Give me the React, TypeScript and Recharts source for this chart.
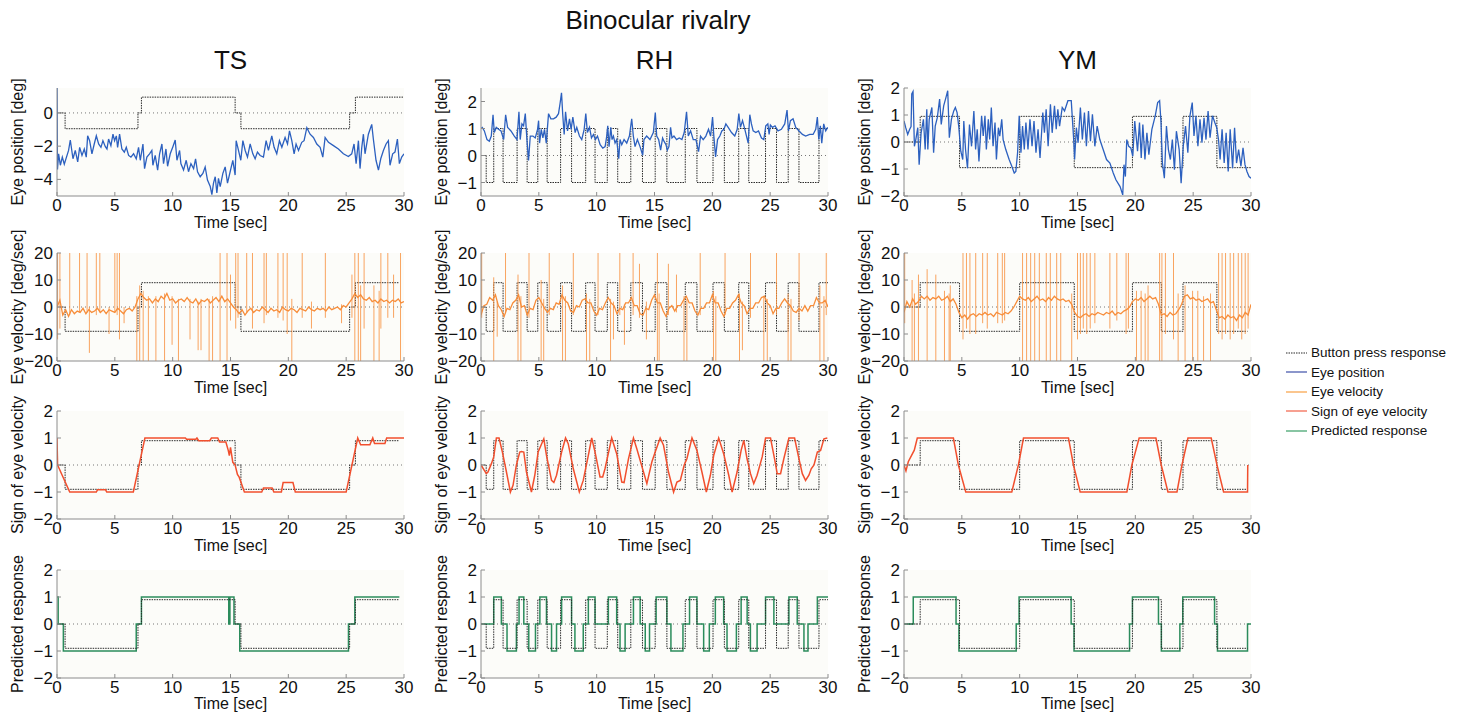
import { LineChart, Line, XAxis, YAxis, CartesianGrid, ReferenceLine } from "recharts";

const TIME_TICKS = [0, 5, 10, 15, 20, 25, 30];
const VEL_TICKS = [-20, -10, 0, 10, 20];
const SIGN_TICKS = [-2, -1, 0, 1, 2];
const TS_POS_TICKS = [-4, -2, 0];
const RH_POS_TICKS = [-1, 0, 1, 2];
const YM_POS_TICKS = [-2, -1, 0, 1, 2];

const SUBJECTS = ["TS", "RH", "YM"];
const ROW_LABELS = ["Eye position [deg]", "Eye velocity [deg/sec]", "Sign of eye velocity", "Predicted response"];
const LEGEND_ITEMS = ["Button press response", "Eye position", "Eye velocity", "Sign of eye velocity", "Predicted response"];

// button press: switch times [sec] and state from that time on
const TS_BUTTON_T = [0, 0.7, 7.0, 7.3, 15.4, 15.9, 25.3, 25.8];
const TS_BUTTON_S = [0, -1, 0, 1, 0, -1, 0, 1];
const RH_BUTTON_T = [0, 0.45, 1.1, 1.91, 3.12, 3.99, 4.91, 5.72, 6.88, 7.83, 9.05, 9.86, 10.92, 11.82, 12.95, 13.96, 15.06, 16.07, 17.66, 18.67, 20.06, 21.04, 22.28, 23.15, 24.6, 25.55, 26.56, 27.49, 29.22];
const RH_BUTTON_S = [0, -1, 1, -1, 1, -1, 1, -1, 1, -1, 1, -1, 1, -1, 1, -1, 1, -1, 1, -1, 1, -1, 1, -1, 1, -1, 1, -1, 1];
const YM_BUTTON_T = [0, 1.4, 4.8, 10.0, 14.72, 19.75, 22.25, 24.12, 27.05];
const YM_BUTTON_S = [0, 1, -1, 1, -1, 1, -1, 1, -1];

// eye position [t, deg]
const TS_POS: [number, number][] = [
  [0, 1.6], [0.04, -3.4], [0.14, -2.46], [0.29, -3.15], [0.46, -2.66], [0.63, -3.09], [1.0, -2.26], [1.15, -1.63],
  [1.38, -2.76], [1.58, -2.26], [1.79, -2.95], [1.96, -2.07], [2.16, -2.56], [2.36, -2.17], [2.53, -2.66], [2.65, -1.38],
  [2.82, -1.67], [3.02, -2.46], [3.22, -1.87], [3.4, -1.38], [3.6, -1.87], [3.8, -2.07], [3.97, -1.67], [4.18, -2.03],
  [4.32, -2.17], [4.46, -1.57], [4.66, -1.97], [4.84, -1.28], [4.98, -1.67], [5.13, -1.38], [5.24, -2.07], [5.41, -1.28],
  [5.61, -2.17], [5.82, -2.36], [5.99, -2.07], [6.19, -2.56], [6.39, -2.66], [6.62, -2.46], [6.85, -2.76], [7.05, -2.07],
  [7.2, -2.85], [7.43, -1.87], [7.57, -3.35], [7.77, -2.66], [8.0, -2.46], [8.2, -2.26], [8.29, -3.15], [8.49, -2.56],
  [8.7, -3.44], [8.87, -2.46], [9.07, -1.87], [9.21, -3.05], [9.42, -2.17], [9.56, -3.21], [9.79, -2.46], [10.02, -2.03],
  [10.22, -1.63], [10.37, -2.85], [10.6, -2.26], [10.71, -3.05], [10.94, -3.44], [11.17, -2.85], [11.37, -3.54], [11.58, -3.05],
  [11.81, -3.35], [11.98, -2.76], [12.15, -3.54], [12.38, -3.84], [12.61, -3.64], [12.81, -3.25], [13.01, -4.04], [13.25, -4.43],
  [13.39, -4.92], [13.53, -4.23], [13.68, -3.84], [13.82, -4.82], [13.96, -3.94], [14.11, -4.43], [14.34, -3.64], [14.54, -3.25],
  [14.74, -4.23], [14.97, -3.54], [15.2, -2.85], [15.4, -3.74], [15.49, -1.67], [15.69, -2.26], [15.89, -2.85], [16.07, -1.67],
  [16.27, -2.26], [16.47, -2.66], [16.7, -1.87], [16.93, -2.46], [17.13, -2.76], [17.33, -2.36], [17.56, -2.56], [17.85, -2.66],
  [18.08, -1.67], [18.28, -2.26], [18.57, -1.38], [18.77, -2.07], [19.0, -2.46], [19.23, -1.67], [19.44, -2.07], [19.72, -1.48],
  [19.93, -1.87], [20.1, -1.08], [20.3, -1.67], [20.5, -2.46], [20.67, -1.87], [20.88, -2.26], [21.16, -1.77], [21.36, -1.67],
  [21.6, -0.89], [21.88, -1.28], [22.17, -1.48], [22.46, -1.87], [22.75, -2.07], [22.98, -2.66], [23.18, -1.48], [23.47, -1.77],
  [23.9, -1.97], [24.33, -2.17], [24.76, -2.46], [25.19, -2.62], [25.48, -2.46], [25.68, -1.87], [25.86, -3.05], [26.06, -1.67],
  [26.2, -3.35], [26.35, -2.07], [26.49, -1.28], [26.63, -2.46], [26.92, -1.28], [27.21, -0.69], [27.35, -1.57], [27.58, -2.85],
  [27.79, -3.44], [27.99, -2.76], [28.22, -2.26], [28.45, -1.87], [28.65, -1.67], [28.79, -3.15], [29.02, -2.46], [29.22, -2.36],
  [29.43, -1.57], [29.6, -3.05], [29.8, -2.66], [30, -2.46],
];

const RH_POS: [number, number][] = [
  [0, 1.0], [0.11, 1.04], [0.29, 0.91], [0.52, 0.59], [0.72, 0.53], [0.89, 0.72], [1.04, 1.51], [1.15, 0.85],
  [1.32, 1.04], [1.52, 0.97], [1.73, 0.91], [1.96, 0.59], [2.13, 1.51], [2.3, 1.04], [2.59, 0.91], [2.88, 0.72],
  [3.11, 0.59], [3.28, 1.62], [3.39, 0.59], [3.54, 1.17], [3.68, 1.1], [3.83, 1.55], [3.97, 0.59], [4.11, -0.18],
  [4.26, 0.72], [4.49, 0.72], [4.69, 0.65], [4.89, 0.97], [4.98, 1.29], [5.06, 0.46], [5.21, 0.97], [5.35, 0.65],
  [5.49, 0.97], [5.64, 0.46], [5.84, 1.55], [6.04, 1.36], [6.27, 1.36], [6.5, 1.42], [6.7, 1.55], [6.84, 1.94],
  [6.96, 2.32], [7.07, 1.49], [7.19, 0.78], [7.31, 1.62], [7.48, 0.91], [7.65, 1.36], [7.79, 0.97], [7.94, 1.42],
  [8.14, 0.85], [8.28, 1.04], [8.51, 0.72], [8.71, 0.59], [8.92, 0.97], [9.06, 1.55], [9.2, 0.85], [9.38, 1.04],
  [9.55, 0.65], [9.72, 0.78], [9.89, 0.59], [10.07, 0.72], [10.3, 0.4], [10.53, 0.27], [10.73, 0.33], [10.87, 0.72],
  [10.96, 1.1], [11.07, 0.33], [11.22, 1.04], [11.33, 0.59], [11.45, 0.72], [11.59, 0.46], [11.73, 0.59], [11.91, -0.12],
  [12.02, 0.59], [12.17, 0.4], [12.37, 0.59], [12.6, 0.46], [12.83, 0.72], [13.03, 1.36], [13.17, 0.72], [13.32, 0.33],
  [13.52, 0.59], [13.75, 0.33], [13.98, 0.01], [14.09, 0.59], [14.32, 0.72], [14.61, 0.59], [14.9, 0.85], [15.07, 1.59],
  [15.19, 0.72], [15.36, 0.59], [15.53, 0.2], [15.7, 0.65], [15.82, 0.53], [15.99, 0.4], [16.11, 0.2], [16.25, 0.33],
  [16.39, 1.04], [16.51, 0.65], [16.68, 0.72], [16.91, 0.59], [17.14, 0.65], [17.37, 0.59], [17.57, 0.85], [17.77, 1.62],
  [17.92, 0.72], [18.12, 0.91], [18.35, 0.59], [18.58, 0.59], [18.81, 0.14], [18.98, 0.72], [19.21, 0.59], [19.44, 0.72],
  [19.67, 0.97], [19.85, 0.72], [20.02, 1.42], [20.13, 0.72], [20.28, -0.05], [20.45, 0.59], [20.65, 0.72], [20.82, 0.91],
  [21.0, 0.97], [21.17, 1.17], [21.37, 1.04], [21.66, 0.85], [21.94, 0.72], [22.15, 0.97], [22.29, 1.55], [22.43, 1.04],
  [22.61, 1.29], [22.81, 0.97], [23.1, 0.46], [23.24, 1.51], [23.38, 1.17], [23.53, 0.91], [23.76, 0.85], [23.99, 0.91],
  [24.25, 0.65], [24.45, 0.59], [24.62, 1.1], [24.8, 1.17], [24.91, 0.78], [25.02, 1.13], [25.2, 1.04], [25.42, 1.1],
  [25.68, 0.91], [25.97, 0.97], [26.26, 1.17], [26.46, 1.68], [26.58, 0.91], [26.75, 1.29], [26.98, 1.36], [27.21, 1.04],
  [27.5, 0.91], [27.79, 0.78], [28.07, 0.72], [28.42, 0.78], [28.71, 0.78], [28.94, 0.97], [29.08, 1.42], [29.2, 0.59],
  [29.34, 1.1], [29.46, 0.46], [29.63, 1.17], [29.8, 0.91], [29.97, 1.04],
];

const YM_POS: [number, number][] = [
  [0, 0.78], [0.15, 0.53], [0.32, 0.28], [0.49, 0.47], [0.61, 0.57], [0.67, 1.78], [0.78, 1.87], [0.9, -0.16],
  [1.02, 0.09], [1.19, 0.53], [1.31, -0.84], [1.48, 0.34], [1.68, 0.84], [1.83, -0.28], [1.97, 1.21], [2.06, -0.28],
  [2.18, 0.84], [2.41, 1.28], [2.56, -0.4], [2.7, 0.59], [2.88, 0.9], [3.08, 1.59], [3.22, 0.65], [3.43, 1.34],
  [3.63, 1.65], [3.78, 1.9], [3.92, 0.16], [4.1, 0.84], [4.3, 1.15], [4.44, 1.28], [4.59, 1.09], [4.73, 0.59],
  [4.91, -0.34], [5.08, -0.65], [5.17, 0.78], [5.32, -0.28], [5.49, -0.97], [5.66, 0.65], [5.84, -0.16], [6.04, 1.15],
  [6.19, -0.28], [6.33, 0.47], [6.48, -0.72], [6.71, 0.97], [6.85, 0.22], [7.0, 0.97], [7.12, -0.28], [7.29, 0.84],
  [7.41, 0.09], [7.55, 1.28], [7.7, -0.16], [7.87, 0.72], [7.99, -0.65], [8.16, 0.53], [8.28, 0.22], [8.45, 0.84],
  [8.57, 0.09], [8.8, -0.28], [9.09, -0.65], [9.32, -0.9], [9.53, -1.15], [9.67, -1.09], [9.82, -0.4], [9.96, 0.97],
  [10.11, -0.4], [10.25, 0.59], [10.4, -0.28], [10.54, 0.72], [10.72, -0.28], [10.89, 0.84], [11.07, -0.16], [11.24, 0.78],
  [11.41, -0.4], [11.59, 0.47], [11.76, -0.59], [12.0, 1.09], [12.14, 0.34], [12.29, 1.21], [12.46, -0.16], [12.66, 1.4],
  [12.81, 0.34], [13.01, 1.34], [13.16, 0.47], [13.3, 1.21], [13.45, 0.59], [13.68, 1.28], [13.88, 1.15], [14.17, 1.53],
  [14.46, 1.53], [14.67, 0.09], [14.75, -0.65], [14.9, 0.53], [15.05, -0.03], [15.25, 1.28], [15.42, 0.09], [15.6, 1.09],
  [15.77, -0.16], [15.95, 1.15], [16.12, 0.03], [16.29, 1.03], [16.5, -0.16], [16.7, 0.59], [16.93, 0.09], [17.22, -0.28],
  [17.51, -0.65], [17.8, -0.78], [18.09, -1.15], [18.32, -1.4], [18.68, -1.65], [18.91, -1.96], [19.02, -0.84], [19.14, -1.28],
  [19.26, 0.09], [19.43, -0.16], [19.61, -0.22], [19.78, -0.53], [19.95, 0.78], [20.19, -0.34], [20.36, 0.72], [20.51, -0.59],
  [20.65, 0.65], [20.83, -0.65], [21.0, 0.34], [21.17, -0.47], [21.43, 0.47], [21.72, 0.97], [21.93, 1.46], [22.1, 1.53],
  [22.22, 0.72], [22.34, -0.78], [22.51, -1.34], [22.69, 0.59], [22.86, -0.28], [23.03, -0.65], [23.2, 0.09], [23.38, -1.03],
  [23.55, 0.4], [23.79, -0.28], [23.96, -1.53], [24.14, -0.16], [24.34, 0.59], [24.54, -0.4], [24.72, 0.97], [24.92, 1.46],
  [25.07, 0.22], [25.24, 0.97], [25.41, -0.16], [25.59, 0.84], [25.76, -0.03], [25.94, 0.9], [26.11, 0.09], [26.29, 1.15],
  [26.46, 0.16], [26.67, 0.97], [26.87, 0.72], [27.04, 0.53], [27.19, 0.09], [27.33, -0.65], [27.5, 0.47], [27.68, -0.78],
  [27.85, 0.34], [28.03, -1.09], [28.2, 0.47], [28.41, -0.97], [28.58, 0.53], [28.75, -0.78], [28.93, -0.28], [29.13, -0.9],
  [29.31, -0.22], [29.48, -0.84], [29.65, -1.09], [29.83, -1.28], [30, -1.34],
];

// eye velocity [deg/sec], one reading every 0.25 sec
const VEL_STEP = 0.25;
const TS_VEL = [
  0, 2.5, -3, -1, -3.5, -1, -2.5, -1.5,
  -2, -0.5, -2.5, -1, -2, -1.5, -0.5, -2,
  -1, -2.5, -1, -1.5, -2, -0.5, -1.5, -2.5,
  -1, -0.5, -1.5, 0, 3, 5, 3.5, 2.5,
  3, 1.5, 3, 2, 4, 3, 5, 2.5,
  3, 1.5, 2.5, 3, 2, 3.5, 2, 1.5,
  3, 1, 2.5, 2, 3, 1.5, 2.5, 3.5,
  2, 4, 2, 3, 1.5, 0, -1, -2.5,
  -1, -3, -1.5, -0.5, -2, -1, -1.5, 0,
  -1, -2, -0.5, -1.5, -1, -2, 0, -1,
  -1.5, -0.5, -1, -2, -0.5, -1, -1.5, 0,
  -1, -1.5, -0.5, -1, -0.5, -1.5, 0, -1,
  -0.5, 0, -1, 0.5, 0, 1.5, 3, 5,
  3.5, 4.5, 3, 2.5, 3.5, 2, 2.5, 1.5,
  3, 2, 2.5, 1.5, 2.5, 2, 3, 1.5,
  2,
];
const RH_VEL = [
  -3, 0.5, 1, 3.5, 2.5, 4.5, 0.5, -1,
  -3.5, -0.5, -1, 1.5, 2.5, 4.5, 0, 0.5,
  -3, -0.5, -1, 2.5, 3.5, 1.5, -0.5, -2,
  -0.5, -1, 1.5, 1, 4.5, 2.5, 1.5, -1.5,
  -2, 0.5, 0, 2.5, 3, 1.5, 1.5, -1.5,
  -3, -0.5, -1, 1.5, 3.5, 1.5, 0.5, -2.5,
  -0.5, -1, 1.5, 1.5, 3.5, 0.5, 0.5, -2.5,
  -3, -0.5, -1, 2.5, 4.5, 1.5, 1.5, -1.5,
  -3.5, -0.5, 0.5, -1.5, 0.5, 0.5, 2.5, 4,
  1.5, 1.5, -1.5, -3, -0.5, -0.5, 1.5, 1.5,
  4.5, 1.5, 1.5, -1.5, -3.5, -0.5, -0.5, 1.5,
  2.5, 4.5, 1.5, 0.5, -2.5, -0.5, -0.5, 1.5,
  1.5, 3.5, 4, 1.5, 0.5, -2.5, -0.5, -0.5,
  1.5, 3, 1.5, 0.5, -1.5, -2, -0.5, -1.5,
  0.5, -1.5, 0.5, 0.5, 3.5, 1.5, 1.5, 2.5,
  0,
];
const YM_VEL = [
  -2, 2, 0, 3, 1, 2, 4, 3,
  4, 2.5, 3.5, 3, 4, 2.5, 3, 4,
  2, 3, 1, -2, -4, -3, -4.5, -3,
  -2.5, -3.5, -2.5, -3, -2, -3, -2.5, -3.5,
  -2, -2.5, -3, -2, -2.5, -1.5, 0, 2,
  4, 3, 2.5, 3.5, 2, 3, 4, 2.5,
  3, 2, 3.5, 2.5, 4, 3, 2.5, 3,
  2, 2.5, 1, -2, -3.5, -4, -3, -2.5,
  -3.5, -2.5, -3, -2, -2.5, -3, -2, -2.5,
  -1.5, -3, -2, -2.5, -1.5, -1, 0, 2,
  3, 2.5, 3.5, 2, 3, 4, 3, 3.5,
  1, -3, -2.5, -3.5, -2, -3, -2.5, -1,
  1, 4, 4.5, 3, 3.5, 2.5, 3, 2,
  2.5, 3, 1.5, 2, -1, -4, -3.5, -4.5,
  -3, -4, -3.5, -5, -3, -4, -2, -3,
  1,
];

// saccade spikes in the velocity trace: [t, low, high]
const TS_SPIKES: [number, number, number][] = [
  [0.05, -12, 25], [0.25, -8, 25], [1.1, -3, 25], [1.95, -2, 25], [2.6, -2, 25], [2.8, -17, 0], [3.4, -3, 25],
  [3.7, -2, 25], [4.5, -10, 0], [5.0, -2, 25], [5.2, -3, 25], [5.4, -12, 25], [5.8, -6, 0], [6.9, -25, 4],
  [7.15, -25, 8], [7.45, -25, 6], [7.9, -25, 4], [8.55, -25, 4], [9.3, -25, 5], [9.95, -14, 4], [10.5, -25, 3],
  [11.5, -12, 3], [12.2, -16, 2], [12.45, -16, 3], [13.15, -25, 3], [13.45, -25, 4], [14.1, -25, 25], [14.7, -25, 25],
  [15.0, -5, 12], [15.45, -8, 25], [15.65, -4, 25], [16.4, -2, 25], [16.9, -8, 25], [17.9, -6, 25], [18.1, -3, 25],
  [19.1, -4, 25], [19.55, -5, 25], [19.9, -10, 25], [20.3, -25, 3], [21.2, -4, 25], [22.0, -8, 2], [23.2, -4, 25],
  [24.6, -6, 1], [25.5, -4, 12], [25.75, -25, 25], [26.05, -25, 25], [26.25, -25, 8], [26.55, -8, 25], [27.4, -25, 8],
  [27.85, -25, 6], [28.0, -8, 25], [28.6, -4, 25], [29.1, -4, 12], [29.7, -25, 25],
];
const RH_SPIKES: [number, number, number][] = [
  [0.06, -4, 25], [1.1, -25, 11], [1.4, -11, 2], [2.12, -2, 25], [3.2, -25, 12], [3.45, -25, 4], [4.15, -4, 25],
  [5.2, -25, 10], [5.42, -25, 3], [5.9, -3, 25], [7.05, -25, 8], [7.3, -25, 4], [7.98, -3, 25], [9.12, -25, 5],
  [9.4, -25, 3], [10.12, -3, 25], [11.2, -25, 3], [11.45, -12, 2], [12.0, -3, 25], [12.4, -14, 1], [13.15, -3, 25],
  [13.7, -4, 16], [14.3, -12, 2], [15.25, -25, 25], [15.4, -25, 5], [16.2, -3, 16], [16.9, -2, 12], [17.55, -25, 4],
  [17.8, -25, 3], [18.95, -3, 25], [20.1, -25, 6], [20.3, -25, 4], [21.1, -3, 25], [22.35, -25, 5], [22.6, -16, 2],
  [23.3, -4, 25], [24.45, -25, 4], [24.75, -25, 3], [25.55, -3, 25], [26.55, -25, 5], [26.8, -25, 3], [27.5, -5, 25],
  [29.3, -25, 8], [29.65, -25, 4], [29.85, -3, 25],
];
const YM_SPIKES: [number, number, number][] = [
  [0.06, -6, 25], [0.7, -25, 10], [0.9, -25, 5], [1.25, -25, 12], [2.0, -25, 14], [2.75, -25, 12], [3.5, -25, 6],
  [3.9, -25, 5], [4.0, -25, 8], [5.1, -12, 25], [5.4, -8, 25], [5.7, -10, 25], [6.2, -10, 25], [6.8, -6, 25],
  [7.2, -8, 25], [8.1, -6, 25], [8.5, -6, 25], [8.7, -5, 25], [10.25, -25, 25], [10.6, -25, 25], [10.95, -25, 25],
  [11.3, -25, 25], [11.7, -25, 25], [12.3, -25, 25], [12.65, -25, 25], [13.2, -25, 25], [13.55, -25, 25], [14.5, -25, 5],
  [15.0, -12, 25], [15.25, -10, 25], [15.5, -8, 25], [15.8, -10, 25], [16.1, -8, 25], [16.5, -6, 25], [17.8, -8, 25],
  [18.4, -5, 25], [19.2, -10, 25], [19.4, -8, 25], [20.1, -25, 6], [20.5, -25, 6], [20.85, -25, 5], [21.1, -25, 8],
  [22.1, -25, 25], [22.3, -25, 25], [22.6, -10, 25], [23.3, -12, 25], [23.7, -25, 5], [24.3, -25, 8], [24.95, -25, 6],
  [25.4, -25, 6], [25.9, -25, 4], [26.5, -25, 5], [27.2, -10, 25], [27.5, -12, 25], [27.8, -10, 25], [28.2, -12, 25],
  [28.5, -10, 25], [28.9, -8, 25], [29.2, -12, 25], [29.5, -10, 25], [29.75, -8, 25],
];

// smoothed sign of eye velocity [t, value]
const TS_SIGN: [number, number][] = [
  [0, 1], [0.05, 0], [1.1, -1], [3.4, -1], [3.5, -0.92], [4.2, -0.92], [4.3, -1], [6.6, -1], [7.6, 1], [11.1, 1],
  [11.2, 0.95], [12.0, 0.95], [12.1, 1], [12.25, 0.9], [13.2, 0.9], [13.35, 1], [13.9, 1], [14.05, 0.85], [14.6, 0.85],
  [14.8, 0.55], [14.9, 0.35], [15.0, 0.65], [15.2, 0.1], [15.4, 0.0], [15.6, -0.35], [15.75, -0.45], [16.2, -1],
  [17.7, -1], [17.85, -0.85], [18.6, -0.85], [18.75, -1], [19.4, -1], [19.55, -0.65], [20.4, -0.65], [20.6, -1],
  [25.0, -1], [26.0, 1], [26.25, 0.75], [27.05, 0.75], [27.3, 1], [27.45, 0.8], [28.35, 0.8], [28.5, 1], [30, 1],
];
const RH_SIGN: [number, number][] = [
  [0, 0], [0.46, -0.32], [0.6, -0.26], [0.9, 0.05], [1.1, 0.3], [1.33, 1.0], [1.56, 1.0], [1.85, 0.48], [2.2, -0.26],
  [2.54, -1.0], [2.77, -0.75], [3.06, 0], [3.35, 0.48], [3.5, 0.5], [3.7, 0.48], [3.93, -0.26], [4.36, -1], [4.65, -0.38],
  [4.94, 0.48], [5.43, 0.97], [5.66, 0.36], [6.1, -0.57], [6.3, -0.65], [6.53, -0.38], [6.97, 0.48], [7.31, 1.0],
  [7.54, 0.79], [7.98, -0.14], [8.5, -1], [8.84, -0.57], [9.28, 0.36], [9.57, 1.0], [9.86, 0.48], [10.29, -0.44],
  [10.52, -0.44], [10.72, -0.14], [11.3, 1.0], [11.73, 0.42], [12.17, -0.63], [12.37, -0.65], [12.75, 0.23], [13.18, 1.0],
  [13.47, 0.6], [14.05, -0.26], [14.34, -0.69], [14.77, 0.11], [15.06, 0.48], [15.49, 1.0], [15.78, 0.73], [16.21, -0.26],
  [16.65, -1], [16.94, -0.63], [17.23, -0.57], [17.57, 0], [17.8, 0.23], [18.24, 1.0], [18.67, 0.54], [19.1, -0.26],
  [19.48, -1], [19.83, -0.38], [20.12, 0.36], [20.55, 1.0], [20.98, 0.42], [21.42, -0.38], [21.71, -1], [22.14, -0.26],
  [22.49, 0.54], [22.72, 0.91], [23.0, 0.23], [23.3, -0.32], [23.58, -0.69], [23.87, -0.38], [24.31, 0.3], [24.6, 1.0],
  [25.03, 1.0], [25.38, 0.23], [25.61, -0.32], [25.9, -0.32], [26.18, 0.23], [26.62, 1.0], [27.11, 1.0], [27.49, 0.23],
  [27.78, -0.32], [28.06, -0.57], [28.35, -0.38], [28.55, -0.14], [28.79, 0], [29.08, 0.48], [29.36, 0.54], [29.65, 0.97],
  [29.94, 1.0],
];
const YM_SIGN: [number, number][] = [
  [0, 0], [0.17, -0.22], [0.37, 0.12], [0.89, 0.55], [1.15, 1.0], [4.27, 1.0], [4.7, 0], [5.34, -1], [9.32, -1],
  [9.89, 0], [10.33, 1.0], [14.22, 1.0], [14.65, 0], [15.23, -1], [19.27, -1], [19.7, 0], [20.33, 1.0], [21.78, 1.0],
  [22.24, 0], [22.82, -1], [23.6, -1], [24.03, 0], [24.55, 1.0], [26.56, 1.0], [27.06, 0], [27.63, -1], [29.7, -1],
  [29.72, 0],
];

// predicted response: switch times and state
const TS_PRED_T = [0, 0.1, 0.55, 6.85, 7.3, 14.85, 14.95, 15.3, 15.8, 25.2, 25.75];
const TS_PRED_S = [1, 0, -1, 0, 1, 0, 1, 0, -1, 0, 1];
const RH_PRED_T = [0, 1.1, 1.76, 2.25, 3.06, 3.29, 3.7, 4.13, 4.71, 5.09, 5.66, 6.1, 6.53, 6.97, 7.83, 8.12, 8.84, 9.28, 9.86, 11.01, 11.73, 12.02, 12.46, 13.18, 13.76, 14.2, 14.57, 15.14, 16.07, 16.42, 17.46, 18.03, 18.67, 19.25, 19.74, 20.26, 20.98, 21.27, 22.08, 22.49, 23.01, 23.29, 23.87, 24.6, 25.32, 26.62, 27.34, 27.92, 28.27, 29.08];
const RH_PRED_S = [0, 1, 0, -1, 0, 1, 0, -1, 0, 1, 0, -1, 0, 1, 0, -1, 0, 1, 0, 1, 0, -1, 0, 1, 0, -1, 0, 1, 0, -1, 0, 1, 0, -1, 0, 1, 0, -1, 0, 1, 0, -1, 0, 1, 0, 1, 0, -1, 0, 1];
const YM_PRED_T = [0, 0.8, 4.5, 4.75, 9.7, 9.95, 14.45, 14.7, 19.5, 19.75, 22.0, 22.25, 23.85, 24.1, 26.85, 27.1, 29.7];
const YM_PRED_S = [0, 1, 0, -1, 0, 1, 0, -1, 0, 1, 0, -1, 0, 1, 0, -1, 0];

const BLUE = "#2c60bf";
const ORANGE = "#f78d3a";
const RED = "#f14f2e";
const GREEN = "#2b8c5c";
const BUTTON = "#2a2a2a";
const FRAME = "#8c8c8c";
const PLOT_BG = "#fcfcf9";
const FONT = "'Liberation Sans', Arial, Helvetica, sans-serif";

const COL_LEFT = [57, 481, 904];
const ROW_TOP = [88, 253, 411, 570];
const TIME_LABEL_GAP = [19, 19, 19, 18];
const PW = 347;
const PH = 108;
const YW = 50;
const MT = 14;
const MR = 18;
const XH = 24;

type Pt = { t: number; v: number | null };
type Series = { key: string; data: Pt[]; color: string; width: number; dash?: string; step?: boolean; opacity?: number };

const toPts = (arr: [number, number][]): Pt[] => arr.map(([t, v]) => ({ t, v }));
const sampled = (vals: number[]): Pt[] => vals.map((v, i) => ({ t: i * VEL_STEP, v }));
const spikePts = (arr: [number, number, number][]): Pt[] =>
  arr.flatMap(([t, lo, hi]) => [{ t, v: lo }, { t, v: hi }, { t, v: null }]);
const steps = (times: number[], states: number[], amp: number, end: number): Pt[] => [
  ...times.map((t, i) => ({ t, v: states[i] * amp })),
  { t: end, v: states[states.length - 1] * amp },
];
const minus = (v: number) => (v < 0 ? "\u2212" + Math.abs(v) : String(v));

function Panel({ col, row, domain, ticks, series }: { col: number; row: number; domain: [number, number]; ticks: number[]; series: Series[] }) {
  const left = COL_LEFT[col];
  const top = ROW_TOP[row];
  return (
    <>
      <div style={{ position: "absolute", left: left - YW, top: top - MT }}>
        <LineChart width={YW + PW + MR} height={MT + PH + XH} margin={{ top: MT, right: MR, bottom: 0, left: 0 }}>
          <CartesianGrid horizontal={false} vertical={false} fill={PLOT_BG} />
          <XAxis
            type="number"
            dataKey="t"
            domain={[0, 30]}
            ticks={TIME_TICKS}
            interval={0}
            allowDataOverflow
            height={XH}
            tickSize={-4}
            tickMargin={7}
            axisLine={{ stroke: FRAME }}
            tickLine={{ stroke: FRAME }}
            tick={{ fill: "#111", fontSize: 17 }}
          />
          <XAxis
            xAxisId="top"
            orientation="top"
            type="number"
            domain={[0, 30]}
            ticks={TIME_TICKS}
            interval={0}
            height={0}
            tickSize={-4}
            tick={false}
            axisLine={{ stroke: FRAME }}
            tickLine={{ stroke: FRAME }}
          />
          <YAxis
            type="number"
            domain={domain}
            ticks={ticks}
            interval={0}
            allowDataOverflow
            width={YW}
            tickSize={-4}
            tickMargin={8}
            tickFormatter={minus}
            axisLine={{ stroke: FRAME }}
            tickLine={{ stroke: FRAME }}
            tick={{ fill: "#111", fontSize: 17 }}
          />
          <YAxis
            yAxisId="right"
            orientation="right"
            type="number"
            domain={domain}
            ticks={ticks}
            interval={0}
            width={0}
            tickSize={-4}
            tick={false}
            axisLine={{ stroke: FRAME }}
            tickLine={{ stroke: FRAME }}
          />
          <ReferenceLine y={0} stroke="#777" strokeDasharray="1 3" />
          {series.map((s) => (
            <Line
              key={s.key}
              data={s.data}
              dataKey="v"
              type={s.step ? "stepAfter" : "linear"}
              stroke={s.color}
              strokeWidth={s.width}
              strokeDasharray={s.dash}
              strokeOpacity={s.opacity ?? 1}
              dot={false}
              activeDot={false}
              connectNulls={false}
              isAnimationActive={false}
            />
          ))}
        </LineChart>
      </div>
      <div
        style={{
          position: "absolute",
          left: left - 39,
          top: top + PH / 2,
          transform: "translate(-50%, -50%) rotate(-90deg)",
          whiteSpace: "nowrap",
          fontSize: 16,
          color: "#111",
        }}
      >
        {ROW_LABELS[row]}
      </div>
      <div
        style={{
          position: "absolute",
          left: left + PW / 2,
          top: top + PH + TIME_LABEL_GAP[row],
          transform: "translateX(-50%)",
          whiteSpace: "nowrap",
          fontSize: 16,
          lineHeight: "16px",
          color: "#111",
        }}
      >
        Time [sec]
      </div>
    </>
  );
}

export default function App() {
  const buttons = [
    [TS_BUTTON_T, TS_BUTTON_S, 29.6],
    [RH_BUTTON_T, RH_BUTTON_S, 30],
    [YM_BUTTON_T, YM_BUTTON_S, 29.7],
  ] as const;
  const rowOneAmp = [0.95, 1, 0.95];
  const posData = [TS_POS, RH_POS, YM_POS];
  const posDomain: [number, number][] = [[-5, 1.5], [-1.5, 2.5], [-2, 2]];
  const posTicks = [TS_POS_TICKS, RH_POS_TICKS, YM_POS_TICKS];
  const velData = [TS_VEL, RH_VEL, YM_VEL];
  const spikeData = [TS_SPIKES, RH_SPIKES, YM_SPIKES];
  const signData = [TS_SIGN, RH_SIGN, YM_SIGN];
  const pred = [
    [TS_PRED_T, TS_PRED_S, 29.6],
    [RH_PRED_T, RH_PRED_S, 30],
    [YM_PRED_T, YM_PRED_S, 30],
  ] as const;

  const legendColors = [BUTTON, "#3d4fa8", "#f9a043", "#f26248", "#3a9e66"];

  return (
    <div style={{ position: "absolute", left: 0, top: 0, width: 1464, height: 715, background: "#fff", fontFamily: FONT, color: "#111" }}>
      <div style={{ position: "absolute", left: 658, top: 20, transform: "translate(-50%, -50%)", fontSize: 26, whiteSpace: "nowrap" }}>
        Binocular rivalry
      </div>
      {SUBJECTS.map((s, c) => (
        <div
          key={s}
          style={{ position: "absolute", left: COL_LEFT[c] + PW / 2, top: 60, transform: "translate(-50%, -50%)", fontSize: 26 }}
        >
          {s}
        </div>
      ))}

      {SUBJECTS.map((s, c) => {
        const [bt, bs, bend] = buttons[c];
        return (
          <div key={s}>
            <Panel
              col={c}
              row={0}
              domain={posDomain[c]}
              ticks={posTicks[c]}
              series={[
                { key: "btn", data: steps([...bt], [...bs], rowOneAmp[c], 30), color: BUTTON, width: 1, dash: "1.5 1", step: true },
                { key: "pos", data: toPts(posData[c]), color: BLUE, width: 1.3 },
              ]}
            />
            <Panel
              col={c}
              row={1}
              domain={[-20, 20]}
              ticks={VEL_TICKS}
              series={[
                { key: "btn", data: steps([...bt], [...bs], 9, bend), color: BUTTON, width: 1, dash: "1.5 1", step: true },
                { key: "spk", data: spikePts(spikeData[c]), color: ORANGE, width: 1, opacity: 0.8 },
                { key: "vel", data: sampled(velData[c]), color: ORANGE, width: 1.3 },
              ]}
            />
            <Panel
              col={c}
              row={2}
              domain={[-2, 2]}
              ticks={SIGN_TICKS}
              series={[
                { key: "btn", data: steps([...bt], [...bs], 0.9, bend), color: BUTTON, width: 1, dash: "1.5 1", step: true },
                { key: "sign", data: toPts(signData[c]), color: RED, width: 1.5 },
              ]}
            />
            <Panel
              col={c}
              row={3}
              domain={[-2, 2]}
              ticks={SIGN_TICKS}
              series={[
                { key: "pred", data: steps([...pred[c][0]], [...pred[c][1]], 1, pred[c][2]), color: GREEN, width: 1.5, step: true },
                { key: "btn", data: steps([...bt], [...bs], 0.9, bend), color: BUTTON, width: 1, dash: "1.5 1", step: true },
              ]}
            />
          </div>
        );
      })}

      <div style={{ position: "absolute", left: 1286, top: 343, fontSize: 13.5 }}>
        {LEGEND_ITEMS.map((name, i) => (
          <div key={name} style={{ display: "flex", alignItems: "center", height: 19.5 }}>
            <svg width={22} height={4} style={{ marginRight: 3 }}>
              <line x1={0} y1={2} x2={21} y2={2} stroke={legendColors[i]} strokeWidth={1.2} strokeDasharray={i === 0 ? "1.5 1" : undefined} />
            </svg>
            <span style={{ whiteSpace: "nowrap" }}>{name}</span>
          </div>
        ))}
      </div>
    </div>
  );
}
